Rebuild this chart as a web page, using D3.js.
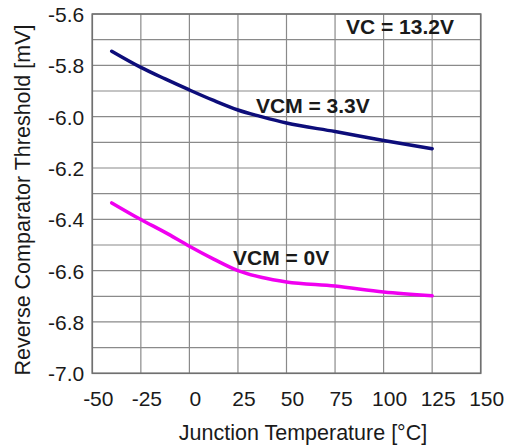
<!DOCTYPE html>
<html>
<head>
<meta charset="utf-8">
<script src="https://cdn.jsdelivr.net/npm/d3@7"></script>
<style>
  html, body { margin: 0; padding: 0; background: #fff; }
  svg { display: block; }
  text { font-family: "Liberation Sans", Arial, Helvetica, sans-serif; fill: #1a1a1a; }
</style>
</head>
<body>
<svg id="chart" width="515" height="447"></svg>
<script>
// ---- data ----
const temperatures = [-40, -25, -12.5, 0, 12.5, 25, 37.5, 50, 75, 100, 125];
const vcm33 = [-5.745, -5.808, -5.853, -5.896, -5.937, -5.974, -6.001, -6.025, -6.058, -6.093, -6.125];
const vcm0  = [-6.336, -6.401, -6.451, -6.505, -6.555, -6.600, -6.627, -6.644, -6.660, -6.683, -6.698];
const seriesNames = ["VCM = 3.3V", "VCM = 0V"];
const xTicks = [-50, -25, 0, 25, 50, 75, 100, 125, 150];
const yTickLabels = [-5.6, -5.8, -6.0, -6.2, -6.4, -6.6, -6.8, -7.0];
const yGrid = [-5.6, -5.7, -5.8, -5.9, -6.0, -6.1, -6.2, -6.3, -6.4, -6.5, -6.6, -6.7, -6.8, -6.9, -7.0];
const annotation = "VC = 13.2V";
const xTitle = "Junction Temperature [°C]";
const yTitle = "Reverse Comparator Threshold [mV]";

// ---- layout ----
const pL = 92.3, pR = 480.7, pT = 14, pB = 373.3;
const svg = d3.select("#chart");
const x = d3.scaleLinear().domain([-50, 150]).range([pL, pR]);
const y = d3.scaleLinear().domain([-7.0, -5.6]).range([pB, pT]);

// grid
const grid = svg.append("g").attr("stroke", "#8a8a8a").attr("stroke-width", 1.2);
grid.selectAll("line.v").data(xTicks).join("line").attr("class", "v")
  .attr("x1", d => x(d)).attr("x2", d => x(d))
  .attr("y1", pT).attr("y2", pB);
grid.selectAll("line.h").data(yGrid).join("line").attr("class", "h")
  .attr("x1", pL).attr("x2", pR)
  .attr("y1", d => y(d)).attr("y2", d => y(d));

// frame
svg.append("rect")
  .attr("x", pL).attr("y", pT)
  .attr("width", pR - pL).attr("height", pB - pT)
  .attr("fill", "none").attr("stroke", "#707070").attr("stroke-width", 1.6);

// axes (labels only)
const xAxis = d3.axisBottom(x).tickValues(xTicks).tickSize(0).tickPadding(0)
  .tickFormat(d => d3.format("d")(d).replace("−", "-"));
const gx = svg.append("g").attr("transform", `translate(0,${pB})`).call(xAxis);
gx.select(".domain").remove();
gx.selectAll("text")
  .attr("dx", 5.5).attr("y", 0).attr("dy", 33)
  .style("font-size", "21px").style("fill", "#1a1a1a")
  .style("font-family", '"Liberation Sans", Arial, sans-serif');

const yAxis = d3.axisLeft(y).tickValues(yTickLabels).tickSize(0).tickPadding(0)
  .tickFormat(d => d3.format(".1f")(d).replace("−", "-"));
const gy = svg.append("g").attr("transform", `translate(${pL - 8},0)`).call(yAxis);
gy.select(".domain").remove();
gy.selectAll("text")
  .attr("x", 0).attr("dy", "0.35em")
  .style("font-size", "21px").style("fill", "#1a1a1a")
  .style("font-family", '"Liberation Sans", Arial, sans-serif');

// axis titles
svg.append("text")
  .attr("x", 303).attr("y", 440)
  .attr("text-anchor", "middle")
  .style("font-size", "21.5px")
  .text(xTitle);
svg.append("text")
  .attr("transform", `translate(30,200) rotate(-90)`)
  .attr("text-anchor", "middle")
  .style("font-size", "21.5px")
  .text(yTitle);

// lines
const line = d3.line().x(d => x(d[0])).y(d => y(d[1])).curve(d3.curveMonotoneX);
const series = [
  { name: seriesNames[0], values: vcm33, color: "#0d0d7a" },
  { name: seriesNames[1], values: vcm0, color: "#f000f0" }
];
svg.selectAll("path.series").data(series).join("path")
  .attr("class", "series")
  .attr("fill", "none")
  .attr("stroke", d => d.color)
  .attr("stroke-width", 3.5)
  .attr("stroke-linecap", "round")
  .attr("d", d => line(temperatures.map((t, i) => [t, d.values[i]])));

// labels
svg.append("text").attr("x", 256).attr("y", 112.5)
  .style("font-size", "21px").style("font-weight", "bold").text(seriesNames[0]);
svg.append("text").attr("x", 233).attr("y", 264.5)
  .style("font-size", "21px").style("font-weight", "bold").text(seriesNames[1]);
svg.append("text").attr("x", 346).attr("y", 33.5)
  .style("font-size", "21px").style("font-weight", "bold").text(annotation);
</script>
</body>
</html>
